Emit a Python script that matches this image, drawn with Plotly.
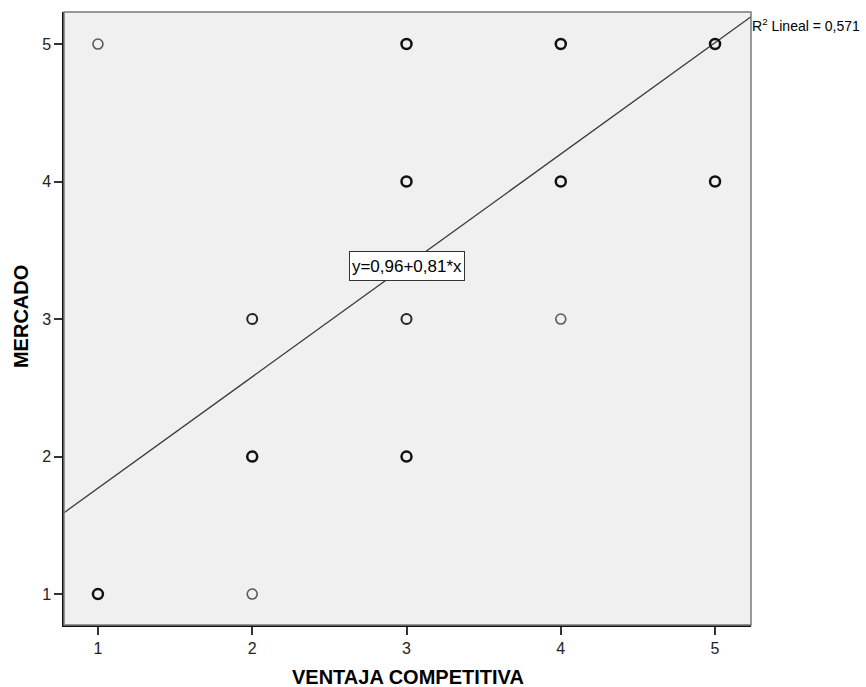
import plotly.graph_objects as go

# Data (ventaja competitiva vs mercado), counts of overlapping cases
x_vals = [1, 1, 2, 2, 2, 3, 3, 3, 3, 4, 4, 4, 5, 5]
y_vals = [5, 1, 3, 2, 1, 5, 4, 3, 2, 5, 4, 3, 5, 4]
counts = [1, 3, 2, 3, 1, 3, 3, 2, 3, 4, 4, 1, 4, 4]

intercept = 0.96
slope = 0.81
r2_text = "R<sup>2</sup> Lineal = 0,571"
eq_text = "y=0,96+0,81*x"
x_title = "VENTAJA COMPETITIVA"
y_title = "MERCADO"

x_range = [0.78, 5.233]
y_range = [0.775, 5.233]

tick_vals = [1, 2, 3, 4, 5]

fig = go.Figure()

# regression line
lx = x_range
ly = [intercept + slope * v for v in lx]
fig.add_trace(go.Scatter(x=lx, y=ly, mode="lines",
                         line=dict(color="#3a3a3a", width=1.3),
                         hoverinfo="skip", showlegend=False, cliponaxis=True))

light_x = [x for x, c in zip(x_vals, counts) if c == 1]
light_y = [y for y, c in zip(y_vals, counts) if c == 1]
mid_x = [x for x, c in zip(x_vals, counts) if c == 2]
mid_y = [y for y, c in zip(y_vals, counts) if c == 2]
dark_x = [x for x, c in zip(x_vals, counts) if c >= 3]
dark_y = [y for y, c in zip(y_vals, counts) if c >= 3]

fig.add_trace(go.Scatter(x=light_x, y=light_y, mode="markers",
                         marker=dict(symbol="circle-open", size=10, color="#5a5a5a",
                                     line=dict(color="#5a5a5a", width=1.6)),
                         showlegend=False))
fig.add_trace(go.Scatter(x=mid_x, y=mid_y, mode="markers",
                         marker=dict(symbol="circle-open", size=10, color="#262626",
                                     line=dict(color="#262626", width=2.0)),
                         showlegend=False))
fig.add_trace(go.Scatter(x=dark_x, y=dark_y, mode="markers",
                         marker=dict(symbol="circle-open", size=10, color="#111111",
                                     line=dict(color="#111111", width=2.5)),
                         showlegend=False))

# gray border (top/right)
fig.add_shape(type="rect", xref="paper", yref="paper", x0=0, y0=0, x1=1, y1=1,
              line=dict(color="#7a7a7a", width=1.5), layer="above")

fig.add_annotation(x=3.0, y=3.385, xref="x", yref="y", text=eq_text,
                   showarrow=False, font=dict(family="Liberation Sans, Arial", size=17, color="black"),
                   bgcolor="white", bordercolor="#333333", borderwidth=1, borderpad=1,
                   width=112, height=26)

fig.add_annotation(x=1, y=1, xref="paper", yref="paper", text=r2_text,
                   xanchor="left", yanchor="top", yshift=-2, xshift=-1,
                   showarrow=False, font=dict(family="Liberation Sans, Arial", size=14, color="black"))

fig.add_annotation(x=0.5, y=-0.0848, xref="paper", yref="paper", text="<b>" + x_title + "</b>",
                   xanchor="center", yanchor="middle", showarrow=False,
                   font=dict(family="Liberation Sans, Arial", size=20, color="black"))
fig.add_annotation(x=-0.0626, y=0.504, xref="paper", yref="paper", text="<b>" + y_title + "</b>",
                   xanchor="center", yanchor="middle", showarrow=False, textangle=-90,
                   font=dict(family="Liberation Sans, Arial", size=20, color="black"))

fig.update_layout(
    width=866, height=687,
    margin=dict(l=64, r=115, t=12, b=62, autoexpand=False),
    paper_bgcolor="white",
    plot_bgcolor="#f0f0f0",
    font=dict(family="Liberation Sans, Arial", size=16, color="#222222"),
    xaxis=dict(range=x_range, tickvals=tick_vals, showgrid=False, zeroline=False,
               showline=True, linecolor="#111111", linewidth=1.5, automargin=False,
               ticks="outside", ticklen=8, tickcolor="#333333", tickwidth=1.5,
               tickfont=dict(size=16)),
    yaxis=dict(range=y_range, tickvals=tick_vals, showgrid=False, zeroline=False,
               showline=True, linecolor="#111111", linewidth=1.5, automargin=False,
               ticks="outside", ticklen=8, tickcolor="#333333", tickwidth=1.5,
               tickfont=dict(size=16)),
)

fig.write_html("out.html")
